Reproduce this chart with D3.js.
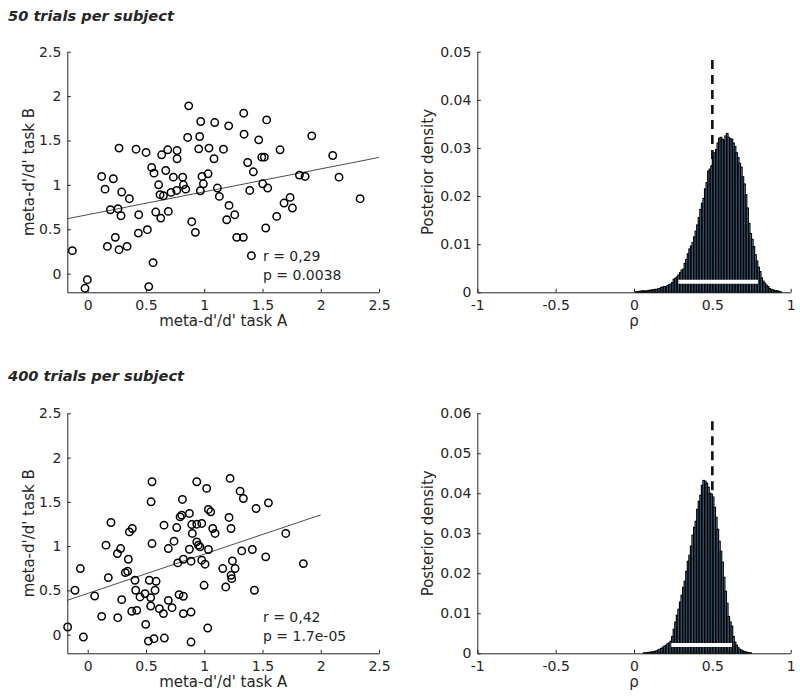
<!DOCTYPE html>
<html><head><meta charset="utf-8">
<script src="https://cdn.jsdelivr.net/npm/d3@7"></script>
<style>
body{margin:0;background:#fff}
svg{display:block}
text{font-family:"DejaVu Sans",sans-serif;fill:#262626}
</style>
</head><body>
<svg id="c" width="800" height="698"></svg>
<script>
// ---------- DATA ----------
const panelTitles = ["50 trials per subject", "400 trials per subject"];
const scatterTicks = [0, 0.5, 1, 1.5, 2, 2.5];
const scatterTickLabels = ["0", "0.5", "1", "1.5", "2", "2.5"];
const rhoTicks = [-1, -0.5, 0, 0.5, 1];
const rhoTickLabels = ["-1", "-0.5", "0", "0.5", "1"];
const densTicks50 = [0, 0.01, 0.02, 0.03, 0.04, 0.05];
const densTickLabels50 = ["0", "0.01", "0.02", "0.03", "0.04", "0.05"];
const densTicks400 = [0, 0.01, 0.02, 0.03, 0.04, 0.05, 0.06];
const densTickLabels400 = ["0", "0.01", "0.02", "0.03", "0.04", "0.05", "0.06"];

// 50 trials: meta-d'/d' task A (x) and task B (y)
const taskA50 = [-0.132,-0.003,-0.023,0.120,0.149,0.220,0.269,0.292,0.358,0.195,0.260,0.286,0.237,0.169,0.269,0.338,0.415,0.501,0.438,0.435,0.512,0.561,0.524,0.549,0.569,0.635,0.687,0.767,0.767,0.670,0.609,0.735,0.815,0.621,0.650,0.715,0.764,0.841,0.821,0.584,0.627,0.692,0.858,0.867,0.970,0.961,0.953,0.981,0.993,0.967,0.893,0.924,1.041,1.090,1.084,1.033,1.113,1.130,1.165,1.210,1.213,1.193,1.262,1.279,1.336,1.339,1.342,1.373,1.422,1.391,1.405,1.468,1.494,1.516,1.502,1.545,1.536,1.528,1.622,1.651,1.685,1.737,1.757,1.817,1.866,1.923,2.103,2.157,2.338];
const taskB50 = [0.259,-0.068,-0.165,1.095,0.952,1.069,1.414,0.919,0.844,0.720,0.731,0.652,0.409,0.307,0.270,0.307,1.402,1.365,0.664,0.457,0.495,0.124,-0.146,1.196,1.132,1.339,1.395,1.387,1.294,1.162,1.001,1.087,1.087,0.889,0.877,0.915,0.937,0.952,1.001,0.694,0.626,0.701,1.534,1.890,1.714,1.545,1.406,1.095,1.012,0.934,0.585,0.465,1.414,1.702,1.294,1.125,0.964,0.870,1.402,1.665,0.769,0.607,0.664,0.409,0.409,1.807,1.571,1.252,1.147,0.937,0.202,1.507,1.312,1.312,1.012,0.964,1.732,0.514,0.645,1.395,0.795,0.859,0.739,1.110,1.095,1.552,1.331,1.087,0.844];
// 400 trials
const taskA400 = [-0.172,-0.109,-0.063,-0.037,0.060,0.120,0.157,0.177,0.200,0.255,0.283,0.258,0.292,0.323,0.343,0.349,0.358,0.383,0.378,0.421,0.406,0.412,0.449,0.492,0.498,0.521,0.529,0.541,0.541,0.552,0.544,0.552,0.569,0.587,0.578,0.615,0.650,0.658,0.655,0.692,0.724,0.692,0.741,0.764,0.773,0.793,0.807,0.813,0.784,0.821,0.821,0.821,0.873,0.873,0.887,0.887,0.887,0.898,0.893,0.936,0.936,0.936,0.950,0.964,0.979,0.979,0.999,1.007,1.021,1.030,1.036,1.036,1.056,1.073,1.093,1.159,1.185,1.213,1.222,1.230,1.242,1.230,1.236,1.265,1.308,1.336,1.322,1.413,1.445,1.431,1.528,1.551,1.700,1.851];
const taskB400 = [0.087,0.502,0.747,-0.026,0.437,0.207,1.011,0.645,1.267,0.916,0.973,0.192,0.396,0.701,0.716,0.852,1.161,1.199,0.264,0.275,0.615,0.502,0.426,0.464,0.117,-0.072,0.615,0.419,0.324,1.029,1.501,1.727,-0.045,0.603,0.502,0.294,0.238,-0.038,1.237,0.388,0.305,0.973,1.056,1.210,0.811,1.331,1.350,1.527,0.453,0.434,0.238,0.852,1.369,0.965,0.830,0.256,-0.083,1.143,1.244,1.727,1.248,1.048,1.011,0.992,1.256,0.841,0.558,0.796,1.652,0.075,0.962,1.414,1.388,1.199,1.143,0.747,0.539,1.324,1.765,1.199,0.833,0.671,0.633,0.747,1.621,1.538,0.946,0.962,1.425,0.502,0.879,1.489,1.143,0.803];

// least-squares lines: [x start, x end, intercept, slope]
const fit50 = [-0.175, 2.5, 0.664, 0.258];
const fit400 = [-0.175, 2.0, 0.466, 0.4437];
const stats50 = ["r = 0,29", "p = 0.0038"];
const stats400 = ["r = 0,42", "p = 1.7e-05"];

// posterior of rho: bins of width 0.01
const binWidth = 0.01;
const binStart50 = 0.00;
const posterior50 = [0,0.0001,0.0001,0.0002,0.0002,0.0003,0.0003,0.0002,0.0003,0.0004,
 0.0004,0.0005,0.0005,0.0006,0.0006,0.0007,0.0008,0.0010,0.0011,0.0012,
 0.0012,0.0014,0.0016,0.0017,0.0020,0.0027,0.0029,0.0032,0.0036,0.0041,
 0.0046,0.0048,0.0060,0.0068,0.0080,0.0090,0.0096,0.0103,0.0115,0.0127,
 0.0140,0.0155,0.0172,0.0185,0.0195,0.0215,0.0228,0.0252,0.0256,0.0262,
 0.0280,0.0290,0.0297,0.0310,0.0320,0.0322,0.0318,0.0315,0.0325,0.0330,
 0.0322,0.0319,0.0318,0.0310,0.0303,0.0290,0.0280,0.0268,0.0260,0.0240,
 0.0225,0.0203,0.0175,0.0143,0.0122,0.0110,0.0095,0.0078,0.0065,0.0052,
 0.0043,0.0030,0.0023,0.0019,0.0015,0.0012,0.0008,0.0006,0.0005,0.0004,
 0.0003,0.0003,0.0002,0.0001];
const binStart400 = 0.06;
const posterior400 = [0.0001,0.0001,0.0002,0.0002,0.0003,0.0003,0.0004,0.0005,0.0006,0.0008,
 0.0010,0.0012,0.0015,0.0018,0.0020,0.0024,0.0026,0.0030,0.0042,0.0060,
 0.0078,0.0095,0.0110,0.0128,0.0145,0.0165,0.0180,0.0205,0.0230,0.0245,
 0.0268,0.0295,0.0315,0.0330,0.0360,0.0380,0.0395,0.0420,0.0432,0.0430,
 0.0425,0.0415,0.0400,0.0398,0.0390,0.0365,0.0340,0.0310,0.0280,0.0255,
 0.0228,0.0190,0.0155,0.0125,0.0092,0.0078,0.0068,0.0042,0.0028,0.0020,
 0.0014,0.0010,0.0008,0.0006,0.0004,0.0003,0.0002,0.0001,0.0001];
const hdi50 = [0.283, 0.791, 0.0022];
const hdi400 = [0.238, 0.625, 0.0021];
const refRho = 0.5;
const refTop50 = 0.0483;
const refTop400 = 0.058;

// ---------- DRAW ----------
const svg = d3.select("#c");
svg.append("rect").attr("width", 800).attr("height", 698).attr("fill", "#fff");
const AX = "#262626";

function styleAxis(g) {
  g.select(".domain").attr("stroke", AX).attr("stroke-width", 1);
  g.selectAll(".tick line").attr("stroke", AX).attr("stroke-width", 1);
  g.selectAll(".tick text").attr("fill", AX).style("font-size", "14px")
    .style("font-family", '"DejaVu Sans", sans-serif');
}

function axes(x, y, box, xTicks, xLabels, yTicks, yLabels, xTitle, yTitle, yTitleOff) {
  const gx = svg.append("g").attr("transform", `translate(0,${box.bottom})`)
    .call(d3.axisBottom(x).tickValues(xTicks).tickFormat((d, i) => xLabels[i])
      .tickSizeInner(-3.5).tickSizeOuter(0).tickPadding(8));
  styleAxis(gx);
  const gy = svg.append("g").attr("transform", `translate(${box.left},0)`)
    .call(d3.axisLeft(y).tickValues(yTicks).tickFormat((d, i) => yLabels[i])
      .tickSizeInner(-3.5).tickSizeOuter(0).tickPadding(6));
  styleAxis(gy);
  svg.append("text").attr("x", (box.left + box.right) / 2).attr("y", box.bottom + 34)
    .attr("text-anchor", "middle").style("font-size", "15px").attr("fill", AX).text(xTitle);
  const cy = (box.top + box.bottom) / 2;
  svg.append("text").attr("transform", `translate(${box.left - yTitleOff},${cy}) rotate(-90)`)
    .attr("text-anchor", "middle").style("font-size", "15px").attr("fill", AX).text(yTitle);
}

function scatterPanel(box, xs, ys, fit, stats, title, titleY) {
  svg.append("text").attr("x", 8).attr("y", titleY)
    .style("font-size", "14.6px").style("font-weight", "bold").style("font-style", "italic")
    .attr("fill", "#111").text(title);
  const x = d3.scaleLinear().domain([-0.175, 2.5]).range([box.left, box.right]);
  const y = d3.scaleLinear().domain([-0.21, 2.5]).range([box.bottom, box.top]);
  const pts = xs.map((v, i) => [v, ys[i]]);
  svg.append("g").selectAll("circle").data(pts).join("circle")
    .attr("cx", d => x(d[0])).attr("cy", d => y(d[1])).attr("r", 3.7)
    .attr("fill", "none").attr("stroke", "#000").attr("stroke-width", 1.5);
  svg.append("line")
    .attr("x1", x(fit[0])).attr("y1", y(fit[2] + fit[3] * fit[0]))
    .attr("x2", x(fit[1])).attr("y2", y(fit[2] + fit[3] * fit[1]))
    .attr("stroke", "#000").attr("stroke-width", 0.7);
  axes(x, y, box, scatterTicks, scatterTickLabels, scatterTicks, scatterTickLabels,
    "meta-d'/d' task A", "meta-d'/d' task B", 33.7);
  svg.append("text").attr("x", x(1.5) + 0.5).attr("y", y(0) - 12.5)
    .style("font-size", "14px").attr("fill", AX).text(stats[0]);
  svg.append("text").attr("x", x(1.5) + 0.5).attr("y", y(0) + 6)
    .style("font-size", "14px").attr("fill", AX).text(stats[1]);
}

function histPanel(box, start, vals, yMax, yTicks, yLabels, hdi, refTop) {
  const x = d3.scaleLinear().domain([-1, 1]).range([box.left, box.right]);
  const y = d3.scaleLinear().domain([0, yMax]).range([box.bottom, box.top]);
  svg.append("line").attr("x1", x(refRho)).attr("x2", x(refRho))
    .attr("y1", y(refTop)).attr("y2", y(0))
    .attr("stroke", "#111").attr("stroke-width", 2.6).attr("stroke-dasharray", "9,6");
  const bins = vals.map((v, i) => ({x0: start + i * binWidth, v}));
  svg.append("g").selectAll("rect").data(bins.filter(b => b.v > 0)).join("rect")
    .attr("x", d => x(d.x0)).attr("width", d => x(d.x0 + binWidth) - x(d.x0))
    .attr("y", d => y(d.v)).attr("height", d => y(0) - y(d.v))
    .attr("fill", "#78bdf0").attr("stroke", "#000").attr("stroke-width", 1.15);
  svg.append("line").attr("x1", x(hdi[0])).attr("x2", x(hdi[1]))
    .attr("y1", y(hdi[2])).attr("y2", y(hdi[2]))
    .attr("stroke", "#fff").attr("stroke-width", 4);
  axes(x, y, box, rhoTicks, rhoTickLabels, yTicks, yLabels, "ρ", "Posterior density", 44.7);
}

const boxTL = {left: 67.3, right: 379, top: 51.7, bottom: 292.3};
const boxBL = {left: 67.3, right: 379, top: 413.3, bottom: 653.3};
const boxTR = {left: 477.3, right: 790.7, top: 51.7, bottom: 292.3};
const boxBR = {left: 477.3, right: 790.7, top: 413.3, bottom: 653.3};

scatterPanel(boxTL, taskA50, taskB50, fit50, stats50, panelTitles[0], 20.5);
scatterPanel(boxBL, taskA400, taskB400, fit400, stats400, panelTitles[1], 380.7);
histPanel(boxTR, binStart50, posterior50, 0.05, densTicks50, densTickLabels50, hdi50, refTop50);
histPanel(boxBR, binStart400, posterior400, 0.06, densTicks400, densTickLabels400, hdi400, refTop400);
</script>
</body></html>
